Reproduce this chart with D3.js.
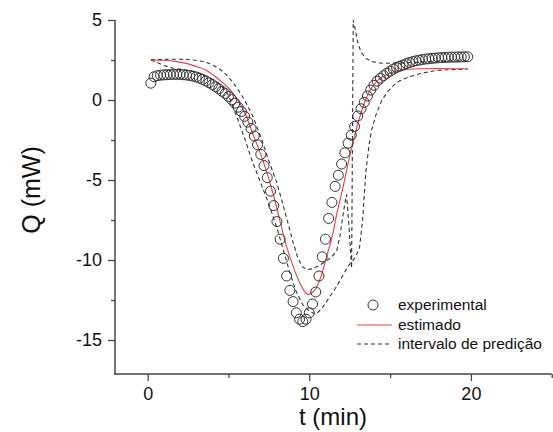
<!DOCTYPE html>
<html><head><meta charset="utf-8">
<script src="https://cdn.jsdelivr.net/npm/d3@7"></script>
<style>body{margin:0;background:#fff}svg{display:block}text{font-family:"Liberation Sans",Arial,sans-serif;fill:#111}</style>
</head><body><svg id="c" width="553" height="432"></svg>
<script>
// experimental data (t in min, Q in mW)
const expT = [0.2,0.4,0.6,0.8,1.0,1.2,1.4,1.6,1.8,2.0,2.2,2.4,2.6,2.8,3.0,3.2,3.4,3.6,3.8,4.0,4.2,4.4,4.6,4.8,5.0,5.2,5.4,5.6,5.8,6.0,6.2,6.4,6.6,6.8,7.0,7.2,7.4,7.6,7.8,8.0,8.2,8.4,8.6,8.8,9.0,9.2,9.4,9.6,9.8,10.0,10.2,10.4,10.6,10.8,11.0,11.2,11.4,11.6,11.8,12.0,12.2,12.4,12.6,12.8,13.0,13.2,13.4,13.6,13.8,14.0,14.2,14.4,14.6,14.8,15.0,15.2,15.4,15.6,15.8,16.0,16.2,16.4,16.6,16.8,17.0,17.2,17.4,17.6,17.8,18.0,18.2,18.4,18.6,18.8,19.0,19.2,19.4,19.6,19.8];
const expQ = [1.05,1.45,1.52,1.55,1.57,1.58,1.59,1.6,1.6,1.6,1.58,1.56,1.53,1.49,1.44,1.37,1.29,1.19,1.08,0.96,0.83,0.7,0.55,0.4,0.22,0.02,-0.2,-0.45,-0.72,-1.02,-1.38,-1.78,-2.25,-2.8,-3.4,-4.1,-4.85,-5.7,-6.6,-7.6,-8.7,-9.9,-11.0,-11.9,-12.6,-13.3,-13.7,-13.85,-13.7,-13.3,-12.75,-12.0,-11.0,-9.8,-8.7,-7.4,-6.4,-5.4,-4.7,-4.0,-3.3,-2.7,-2.2,-1.65,-1.0,-0.55,-0.15,0.25,0.62,0.92,1.18,1.36,1.52,1.67,1.8,1.93,2.03,2.11,2.19,2.27,2.34,2.4,2.45,2.49,2.53,2.56,2.58,2.6,2.62,2.64,2.65,2.66,2.67,2.68,2.68,2.69,2.69,2.7,2.7];
// estimated model curve
const estT = [0.2,1.0,1.8,2.4,3.0,3.65,4.2,4.5,4.9,5.3,5.7,6.1,6.5,7.0,7.4,7.8,8.2,8.5,9.0,9.5,9.9,10.1,10.4,10.7,11.1,11.4,11.75,12.1,12.5,13.0,13.4,13.75,14.2,14.8,15.3,15.8,16.8,17.9,19.8];
const estQ = [2.5,2.48,2.4,2.29,2.1,1.85,1.45,1.2,0.85,0.4,-0.2,-1.0,-2.1,-3.4,-4.6,-6.0,-7.6,-8.8,-10.4,-11.6,-12.15,-12.1,-11.8,-11.1,-9.7,-8.6,-6.9,-5.4,-3.5,-1.5,-0.2,0.6,1.2,1.6,1.78,1.88,1.95,1.97,1.95];
// prediction interval: upper bound
const upT = [0.2,1.0,2.0,2.8,3.5,4.0,4.5,5.0,5.5,6.0,6.5,7.0,7.5,8.0,8.5,9.0,9.3,9.6,9.9,10.2,10.6,11.0,11.4,11.7,11.9,12.1,12.3,12.45,12.62,12.72,12.85,13.0,13.2,13.5,13.9,14.5,15.5,16.5,17.5,18.5,19.8];
const upQ = [2.52,2.54,2.55,2.5,2.4,2.2,1.9,1.45,0.8,0.0,-1.0,-2.3,-3.8,-5.2,-7.0,-8.9,-9.9,-10.45,-10.6,-10.55,-10.35,-10.1,-9.8,-9.4,-8.5,-7.1,-5.9,-7.8,-10.5,5.0,4.4,3.6,3.0,2.6,2.4,2.3,2.3,2.35,2.4,2.43,2.45];
// prediction interval: lower bound
const loT = [0.2,0.6,1.0,1.6,2.2,3.0,4.0,4.5,5.0,5.5,6.0,6.5,7.0,7.5,8.0,8.4,8.8,9.2,9.6,10.0,10.4,10.8,11.2,11.6,12.0,12.4,12.8,13.1,13.3,13.5,13.7,13.85,14.15,14.5,14.8,15.2,15.6,16.0,16.6,17.2,17.9,18.8,19.8];
const loQ = [2.5,2.35,2.15,1.98,1.9,1.75,1.3,0.95,0.3,-1.0,-2.4,-3.9,-5.2,-6.5,-8.0,-9.4,-10.8,-12.0,-12.8,-13.2,-13.4,-13.0,-12.4,-11.8,-11.1,-10.4,-9.9,-9.3,-7.5,-4.5,-2.8,-1.9,-0.85,0.0,0.45,0.9,1.2,1.38,1.58,1.72,1.85,1.9,1.93];
const xTicks = [0,10,20];
const xMinor = [5,15,25];
const yTicks = [5,0,-5,-10,-15];
const yMinor = [2.5,-2.5,-7.5,-12.5];
const legendLabels = ["experimental","estimado","intervalo de predição"];

const svg = d3.select("#c");
const x = d3.scaleLinear().domain([-2.02,25]).range([115,551.7]);
const y = d3.scaleLinear().domain([-17.125,5]).range([374,20]);
const axisColor = "#444";
const fmt = d => String(d); // hyphen-minus like the reference

const line = d3.line().x(d=>x(d[0])).y(d=>y(d[1]));
const zip = (a,b)=>a.map((v,i)=>[v,b[i]]);

// curves
svg.append("path").attr("d",line(zip(upT,upQ))).attr("fill","none").attr("stroke","#333").attr("stroke-width",1.1).attr("stroke-dasharray","4,3");
svg.append("path").attr("d",line(zip(loT,loQ))).attr("fill","none").attr("stroke","#333").attr("stroke-width",1.1).attr("stroke-dasharray","4,3");
svg.append("path").attr("d",d3.line().x(d=>x(d[0])).y(d=>y(d[1])).curve(d3.curveMonotoneX)(zip(estT,estQ))).attr("fill","none").attr("stroke","#f03c3c").attr("stroke-width",1.1);

svg.append("g").selectAll("circle").data(zip(expT,expQ)).join("circle")
  .attr("cx",d=>x(d[0])).attr("cy",d=>y(d[1])).attr("r",5)
  .attr("fill","none").attr("stroke","#333").attr("stroke-width",1);

// axes
const yAxis = svg.append("g").attr("transform","translate(115,0)")
  .call(d3.axisLeft(y).tickValues(yTicks).tickSize(7).tickPadding(6).tickFormat(fmt));
const yAxisMinor = svg.append("g").attr("transform","translate(115,0)")
  .call(d3.axisLeft(y).tickValues(yMinor).tickSize(4).tickFormat(""));
const xAxis = svg.append("g").attr("transform","translate(0,374)")
  .call(d3.axisBottom(x).tickValues(xTicks).tickSize(7).tickPadding(6).tickFormat(fmt));
const xAxisMinor = svg.append("g").attr("transform","translate(0,374)")
  .call(d3.axisBottom(x).tickValues(xMinor).tickSize(4).tickFormat(""));
[yAxis,yAxisMinor,xAxis,xAxisMinor].forEach(g=>{
  g.select(".domain").remove();
  g.selectAll(".tick line").attr("stroke",axisColor).attr("stroke-width",1.3);
  g.selectAll("text").attr("font-size",18).attr("fill","#111").attr("font-family","Liberation Sans, Arial, sans-serif");
});
svg.append("line").attr("x1",115).attr("x2",115).attr("y1",y(5)).attr("y2",374.5).attr("stroke",axisColor).attr("stroke-width",1.5);
svg.append("line").attr("x1",114.25).attr("x2",551.7).attr("y1",374).attr("y2",374).attr("stroke",axisColor).attr("stroke-width",1.5);

// titles
svg.append("text").attr("x",333).attr("y",425).attr("text-anchor","middle").attr("font-size",24).text("t (min)");
svg.append("text").attr("transform","translate(40,190) rotate(-90)").attr("text-anchor","middle").attr("font-size",25).text("Q (mW)");

// legend
const lg = svg.append("g");
lg.append("circle").attr("cx",373).attr("cy",305).attr("r",5).attr("fill","none").attr("stroke","#333").attr("stroke-width",1);
lg.append("line").attr("x1",357).attr("x2",392).attr("y1",325).attr("y2",325).attr("stroke","#f03c3c").attr("stroke-width",1.1);
lg.append("line").attr("x1",357).attr("x2",392).attr("y1",344).attr("y2",344).attr("stroke","#333").attr("stroke-width",1.1).attr("stroke-dasharray","4,3");
lg.selectAll("text").data(legendLabels).join("text")
  .attr("x",398).attr("y",(d,i)=>[310,330,349][i]).attr("font-size",15.5).text(d=>d);
</script></body></html>
